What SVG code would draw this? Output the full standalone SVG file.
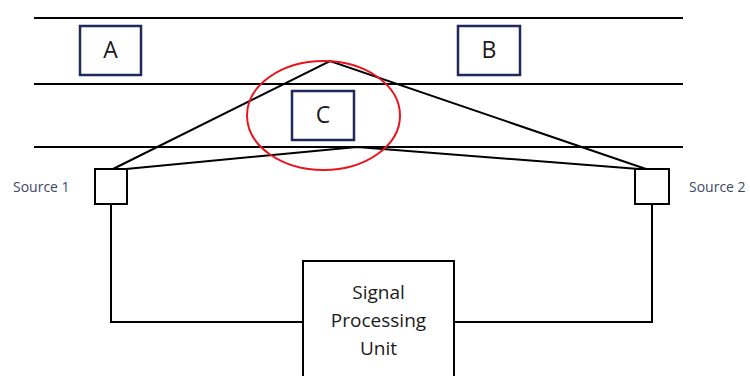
<svg xmlns="http://www.w3.org/2000/svg" width="750" height="376" viewBox="0 0 750 376">
<style>
.ln{stroke:#000;stroke-width:2;fill:none}
.lbox{fill:#fff;stroke:#1f2a5a;stroke-width:2.5}
.lt{font-family:"Open Sans","Liberation Sans",sans-serif;font-size:23px;fill:#1a1a1a;text-anchor:middle}
.src{fill:#fff;stroke:#000;stroke-width:2}
.st{font-family:"Open Sans","Liberation Sans",sans-serif;font-size:14px;fill:#3a4766}
.pt{font-family:"Open Sans","Liberation Sans",sans-serif;font-size:19px;fill:#1a1a1a;text-anchor:middle}
</style>
<rect width="750" height="376" fill="#fff"/>
<g id="layers">
<line class="ln" x1="34" y1="18" x2="683" y2="18"/>
<line class="ln" x1="34" y1="84" x2="683" y2="84"/>
<line class="ln" x1="34" y1="147" x2="683" y2="147"/>
</g>
<g id="connectors">
<polyline class="ln" points="113,169 330,61 646,169"/>
<polyline class="ln" points="126,169 357,147 639,169"/>
<polyline class="ln" points="111,204 111,322 303,322"/>
<polyline class="ln" points="652,204 652,322 454,322"/>
</g>
<g id="ellipse">
<ellipse cx="323.5" cy="115.5" rx="76.5" ry="54.5" fill="none" stroke="#e8141c" stroke-width="2"/>
</g>
<g id="A"><rect class="lbox" x="80" y="26" width="61" height="49"/><text class="lt" x="110.5" y="58">A</text></g>
<g id="B"><rect class="lbox" x="458" y="26" width="62" height="49"/><text class="lt" x="489" y="58">B</text></g>
<g id="C"><rect class="lbox" x="292" y="91" width="62" height="49"/><text class="lt" x="323" y="123">C</text></g>
<g id="source1"><rect class="src" x="95" y="169" width="32" height="35"/><text class="st" x="13" y="192">Source 1</text></g>
<g id="source2"><rect class="src" x="635" y="169" width="34" height="35"/><text class="st" x="689" y="192">Source 2</text></g>
<g id="spu"><rect class="src" x="303" y="261" width="151" height="130"/>
<text class="pt" x="378.5" y="299">Signal</text>
<text class="pt" x="378.5" y="327">Processing</text>
<text class="pt" x="378.5" y="355">Unit</text></g>
</svg>
